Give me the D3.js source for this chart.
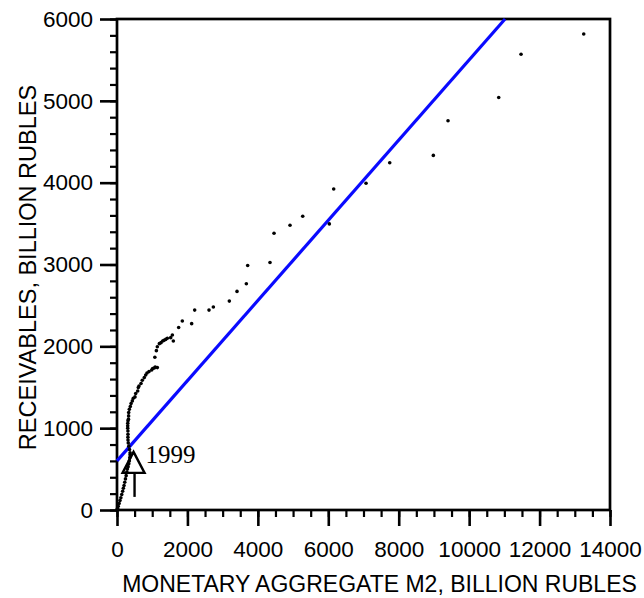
<!DOCTYPE html>
<html>
<head>
<meta charset="utf-8">
<script src="https://cdn.jsdelivr.net/npm/d3@7"></script>
<style>
body { margin: 0; background: #fff; }
text { font-family: "Liberation Sans", Arial, sans-serif; fill: #000; }
</style>
</head>
<body>
<svg id="chart" width="644" height="598"></svg>
<script>
// values (billion rubles)
var m2 = [0, 15, 35, 60, 85, 110, 135, 160, 180, 200, 220, 240, 260, 280, 295, 315, 335, 350, 362, 370,
  372, 355, 335, 320, 312, 310, 312, 310, 305, 304, 306, 312, 325, 330, 332, 350, 378, 400, 435, 463,
  511, 531, 588, 605, 625, 682, 718, 775, 815, 852, 909, 985, 1013, 1060, 1085, 1145, 1075, 1118, 1145, 1202,
  1250, 1297, 1335, 1383, 1430, 1525, 1572, 1600, 1751, 1855, 2120, 2206, 2613, 2736, 3190, 3408, 3673, 3711, 4345, 4459,
  4913, 5274, 6030, 6154, 7072, 7745, 8983, 9400, 10840, 11474, 13254];
var receivables = [0, 20, 45, 80, 115, 150, 190, 230, 265, 300, 340, 380, 420, 465, 500, 530, 565, 600, 640, 675,
  700, 740, 780, 820, 855, 890, 925, 965, 1000, 1030, 1060, 1090, 1110, 1150, 1190, 1230, 1265, 1300, 1333, 1366,
  1382, 1423, 1455, 1496, 1516, 1545, 1585, 1618, 1650, 1675, 1691, 1711, 1730, 1735, 1748, 1740, 1866, 1947, 1994, 2033,
  2045, 2065, 2073, 2085, 2098, 2106, 2138, 2065, 2230, 2309, 2277, 2443, 2443, 2480, 2553, 2671, 2764, 2988, 3024, 3382,
  3480, 3589, 3496, 3923, 3992, 4244, 4333, 4756, 5040, 5569, 5817];

var xTicks = [0, 2000, 4000, 6000, 8000, 10000, 12000, 14000];
var yTicks = [0, 1000, 2000, 3000, 4000, 5000, 6000];
var xMinorStep = 500, yMinorStep = 200;

// fitted straight line
var fitIntercept = 600, fitSlope = 0.49;

// annotation
var markLabel = "1999", markM2 = 470, markRec = 710;

var xTitle = "MONETARY AGGREGATE M2, BILLION RUBLES";
var yTitle = "RECEIVABLES, BILLION RUBLES";

var svg = d3.select("#chart");
var pLeft = 117, pRight = 610, pTop = 19, pBottom = 510;

var x = d3.scaleLinear().domain([0, 14000]).range([pLeft, pRight]);
var y = d3.scaleLinear().domain([0, 6000]).range([pBottom, pTop]);

var xMinor = d3.range(0, 14000 + 1, xMinorStep);
var yMinor = d3.range(0, 6000 + 1, yMinorStep);

// minor ticks
svg.append("g")
    .attr("transform", "translate(0," + pBottom + ")")
    .call(d3.axisBottom(x).tickValues(xMinor).tickSize(7).tickFormat(""))
    .call(function(g) { g.select(".domain").remove(); })
    .selectAll("line").attr("stroke-width", 2.2);

svg.append("g")
    .attr("transform", "translate(" + pLeft + ",0)")
    .call(d3.axisLeft(y).tickValues(yMinor).tickSize(7).tickFormat(""))
    .call(function(g) { g.select(".domain").remove(); })
    .selectAll("line").attr("stroke-width", 2.2);

// major ticks + labels
var xAxis = svg.append("g")
    .attr("transform", "translate(0," + pBottom + ")")
    .call(d3.axisBottom(x).tickValues(xTicks).tickSize(16).tickPadding(15).tickFormat(d3.format("d")));
xAxis.select(".domain").remove();
xAxis.selectAll("line").attr("stroke-width", 2.6);
xAxis.selectAll("text").style("font-size", "22.5px").attr("font-family", null);

var yAxis = svg.append("g")
    .attr("transform", "translate(" + pLeft + ",0)")
    .call(d3.axisLeft(y).tickValues(yTicks).tickSize(17).tickPadding(7).tickFormat(d3.format("d")));
yAxis.select(".domain").remove();
yAxis.selectAll("line").attr("stroke-width", 2.6);
yAxis.selectAll("text").style("font-size", "22.5px").attr("font-family", null);

// frame
svg.append("rect")
    .attr("x", pLeft).attr("y", pTop)
    .attr("width", pRight - pLeft).attr("height", pBottom - pTop)
    .attr("fill", "none")
    .attr("stroke", "#000")
    .attr("stroke-width", 2.7);

// fitted line, stopped where it leaves the top of the box
var yMax = y.domain()[1];
var fitEnd = (yMax - fitIntercept) / fitSlope;
svg.append("line")
    .attr("x1", x(0)).attr("y1", y(fitIntercept))
    .attr("x2", x(fitEnd)).attr("y2", y(yMax))
    .attr("stroke", "#0a0aff")
    .attr("stroke-width", 3.2);

// points
var pts = m2.map(function(v, i) { return [v, receivables[i]]; });
svg.append("g").selectAll("circle")
    .data(pts)
  .enter().append("circle")
    .attr("cx", function(d) { return x(d[0]); })
    .attr("cy", function(d) { return y(d[1]); })
    .attr("r", 1.8)
    .attr("fill", "#000");

// arrow + 1999
var ax = x(markM2), ay = y(markRec);
svg.append("path")
    .attr("d", "M" + ax + "," + ay + "L" + (ax - 11) + "," + (ay + 21) + "L" + (ax + 11) + "," + (ay + 21) + "Z")
    .attr("fill", "none")
    .attr("stroke", "#000")
    .attr("stroke-width", 2.4)
    .attr("stroke-linejoin", "miter");
svg.append("line")
    .attr("x1", ax + 1).attr("y1", ay + 21)
    .attr("x2", ax + 1).attr("y2", ay + 45)
    .attr("stroke", "#000")
    .attr("stroke-width", 2.4);
svg.append("text")
    .attr("x", ax + 12).attr("y", ay + 11)
    .style("font-family", "'Liberation Serif', 'Times New Roman', serif")
    .style("font-size", "25px")
    .text(markLabel);

// axis titles
svg.append("text")
    .attr("x", (pLeft + pRight) / 2 + 16)
    .attr("y", 592)
    .attr("text-anchor", "middle")
    .style("font-size", "23px")
    .text(xTitle);

svg.append("text")
    .attr("transform", "translate(36," + ((pTop + pBottom) / 2 + 3) + ") rotate(-90)")
    .attr("text-anchor", "middle")
    .style("font-size", "23.5px")
    .text(yTitle);
</script>
</body>
</html>
